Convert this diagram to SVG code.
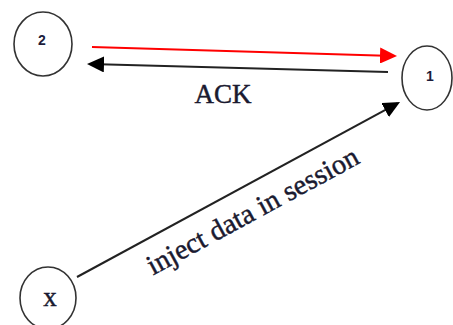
<svg xmlns="http://www.w3.org/2000/svg" width="453" height="325" viewBox="0 0 453 325">
  <style>
    .node { fill: #ffffff; stroke: #333333; stroke-width: 1.6; }
    .num { font-family: "Liberation Sans", Arial, sans-serif; font-size: 14px; font-weight: bold; fill: #1c1c3a; text-anchor: middle; dominant-baseline: central; }
    .lbl { font-family: "Liberation Serif", "Times New Roman", serif; fill: #1a1a30; stroke: #1a1a30; stroke-width: 0.45; }
    .conn { fill: none; stroke-width: 2; }
  </style>
  <defs>
    <marker id="ahRed" markerUnits="userSpaceOnUse" markerWidth="18" markerHeight="16" refX="14" refY="8" orient="auto">
      <path d="M0,0 L17,8 L0,16 Z" fill="#ff0000"/>
    </marker>
    <marker id="ahBlack" markerUnits="userSpaceOnUse" markerWidth="18" markerHeight="16" refX="14" refY="8" orient="auto">
      <path d="M0,0 L17,8 L0,16 Z" fill="#000000"/>
    </marker>
  </defs>
  <rect width="453" height="325" fill="#ffffff"/>
  <g id="connectors">
    <line id="e-2-1" class="conn" x1="92" y1="47" x2="394" y2="55.9" stroke="#ff0000" stroke-width="1.6" marker-end="url(#ahRed)"/>
    <line id="e-1-2" class="conn" x1="388" y1="72" x2="90" y2="64.1" stroke="#222222" marker-end="url(#ahBlack)"/>
    <line id="e-x-1" class="conn" x1="77" y1="277" x2="397.4" y2="103.4" stroke="#222222" marker-end="url(#ahBlack)"/>
    <text class="lbl" x="223" y="103" font-size="27" text-anchor="middle">ACK</text>
    <text class="lbl" x="0" y="0" font-size="28.5" text-anchor="middle" transform="translate(257,219) rotate(-28.5)">inject data in session</text>
  </g>
  <g id="node-2">
    <ellipse class="node" cx="43" cy="44" rx="29" ry="32"/>
    <text class="num" x="42" y="40">2</text>
  </g>
  <g id="node-1">
    <ellipse class="node" cx="427" cy="78" rx="25" ry="32"/>
    <text class="num" x="430" y="76">1</text>
  </g>
  <g id="node-x">
    <ellipse class="node" cx="48" cy="298" rx="28" ry="31"/>
    <text class="lbl" x="50" y="297" font-size="27" text-anchor="middle" dominant-baseline="central">x</text>
  </g>
</svg>
